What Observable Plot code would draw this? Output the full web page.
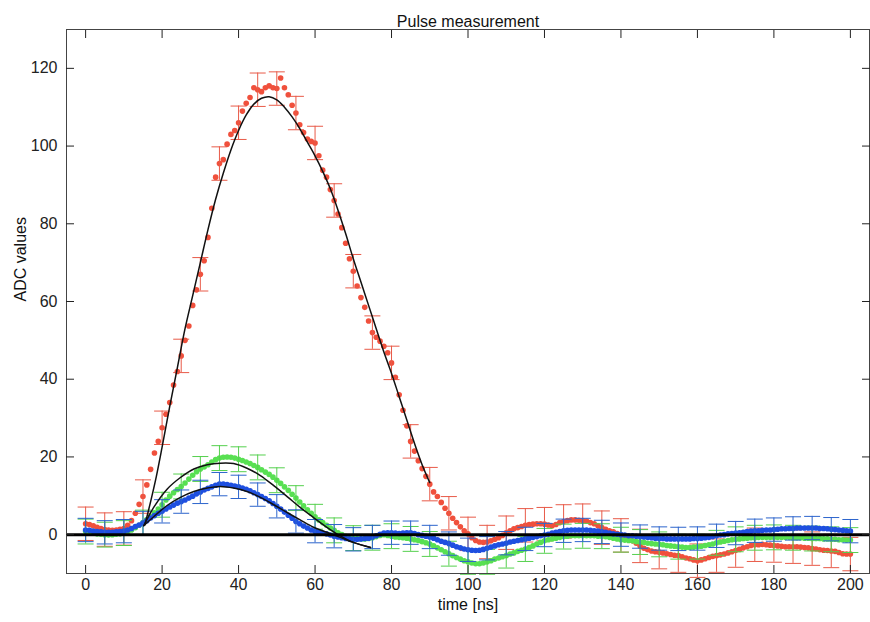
<!DOCTYPE html>
<html>
<head>
<meta charset="utf-8">
<script src="https://cdn.jsdelivr.net/npm/d3@7"></script>
<script src="https://cdn.jsdelivr.net/npm/@observablehq/plot@0.6"></script>
<style>
  body { margin: 0; background: #fff; }
</style>
</head>
<body>
<div id="chart"></div>
<script>
// ---- texts ----
const titleText = "Pulse measurement";
const xLabel = "time [ns]";
const yLabel = "ADC values";

// ---- ticks ----
const xTicks = [0, 20, 40, 60, 80, 100, 120, 140, 160, 180, 200];
const yTicks = [0, 20, 40, 60, 80, 100, 120];

// ---- sample times (1 ns sampling, 0..200 ns) ----
const time = d3.range(0, 201);

const red = [
  2.8, 2.6, 2.3, 1.9, 1.6, 1.3, 1.2, 1.1, 1.2, 1.4,
  1.6, 2.4, 3.6, 5.5, 7.8, 9.8, 12.8, 16.8, 21, 24,
  27.5, 31, 34, 38.5, 42, 46, 50, 53.7, 59, 63,
  67, 70.5, 76.5, 84, 92, 95.5, 96.5, 100.5, 103, 104,
  106, 109, 111, 112.5, 115, 114.5, 114, 115, 115.5, 115,
  114.8, 117.5, 115, 113.2, 110.5, 108.5, 105.5, 103.5, 101.8, 101.2,
  100.8, 97.5, 93.8, 92, 88.8, 86, 82.5, 79, 75, 71,
  67.8, 64, 61, 58.5, 55, 52, 50.8, 49.8, 48.5, 46.8,
  44.2, 40.5, 36, 32, 28, 24, 21.5, 19, 17, 15,
  13, 11, 9.8, 8.3, 6.8, 5.5, 4.2, 3.1, 2, 1,
  0.2, -0.8, -1.5, -1.9, -2, -1.9, -1.6, -1.2, -0.8, -0.2,
  0.5, 1, 1.5, 1.8, 2.1, 2.4, 2.6, 2.7, 2.8, 2.8,
  2.7, 2.5, 2.3, 2.6, 3.1, 3.4, 3.6, 3.8, 3.8, 3.7,
  3.6, 3.5, 3.1, 2.8, 2.3, 1.8, 1.4, 1, 0.7, 0.3,
  -0.2, -0.5, -1, -1.6, -2.2, -2.9, -3.5, -3.9, -4.2, -4.4,
  -4.5, -4.7, -4.9, -5.1, -5.3, -5.4, -5.7, -6, -6.2, -6.5,
  -6.7, -6.5, -6.2, -5.9, -5.6, -5.4, -5.2, -5, -4.7, -4.4,
  -4.1, -3.8, -3.4, -3.1, -2.8, -2.6, -2.6, -2.5, -2.6, -2.7,
  -2.8, -2.9, -3, -3.1, -3.1, -3.1, -3.1, -3.2, -3.3, -3.4,
  -3.6, -3.7, -3.9, -4, -4.1, -4.2, -4.3, -4.6, -4.9, -5,
  -5
];

const green = [
  0.8, 0.6, 0.4, 0.2, 0.1, 0, -0.1, 0, 0.1, 0.2,
  0.4, 0.7, 1.2, 1.8, 2.4, 3.1, 3.9, 4.7, 5.6, 6.6,
  7.7, 8.9, 9.9, 10.8, 11.6, 12.4, 13.3, 14.3, 15.3, 16.2,
  16.9, 17.4, 18, 18.7, 19.3, 19.7, 19.9, 20, 19.9, 19.7,
  19.4, 19.1, 18.7, 18.3, 17.8, 17.3, 16.7, 16.1, 15.5, 14.8,
  14, 13.2, 12.3, 11.4, 10.4, 9.4, 8.4, 7.4, 6.4, 5.5,
  4.6, 3.8, 3.1, 2.4, 1.7, 1.1, 0.5, 0, -0.4, -0.7,
  -0.9, -1, -1.1, -1.1, -1, -0.8, -0.5, -0.2, 0, -0.2,
  -0.4, -0.6, -0.7, -0.8, -0.9, -1.1, -1.3, -1.5, -1.8, -2.1,
  -2.4, -2.9, -3.4, -3.9, -4.4, -4.9, -5.4, -5.9, -6.3, -6.7,
  -7, -7.3, -7.5, -7.5, -7.3, -7, -6.7, -6.3, -6, -5.7,
  -5.4, -5, -4.7, -4.3, -4, -3.7, -3.3, -2.9, -2.4, -2,
  -1.6, -1.3, -1.1, -0.9, -0.7, -0.5, -0.4, -0.3, -0.3, -0.3,
  -0.3, -0.3, -0.3, -0.3, -0.4, -0.4, -0.5, -0.7, -0.9, -1.1,
  -1.3, -1.4, -1.5, -1.6, -1.8, -1.9, -2, -2.2, -2.3, -2.4,
  -2.5, -2.6, -2.8, -2.9, -3, -3.1, -3.2, -3.3, -3.3, -3.2,
  -3.1, -3, -2.8, -2.6, -2.4, -2.1, -1.9, -1.7, -1.5, -1.3,
  -1.2, -1.1, -1, -0.9, -0.8, -0.8, -0.7, -0.7, -0.7, -0.7,
  -0.7, -0.7, -0.7, -0.7, -0.7, -0.8, -0.8, -0.8, -0.9, -0.9,
  -1, -1, -1, -1.1, -1.1, -1.2, -1.2, -1.3, -1.3, -1.4,
  -1.4
];

const blue = [
  1.2, 1.1, 0.9, 0.8, 0.7, 0.6, 0.6, 0.6, 0.7, 0.8,
  0.9, 1.2, 1.6, 2.1, 2.5, 3, 3.6, 4.3, 4.9, 5.5,
  6, 6.6, 7.1, 7.6, 8.1, 8.5, 8.9, 9.4, 9.9, 10.5,
  11, 11.5, 11.9, 12.3, 12.7, 13, 13, 12.9, 12.7, 12.5,
  12.3, 12, 11.7, 11.3, 10.8, 10.3, 9.8, 9.3, 8.7, 8,
  7.3, 6.6, 5.8, 5, 4.2, 3.4, 2.8, 2.2, 1.7, 1.2,
  0.9, 0.6, 0.4, 0.2, -0.1, -0.4, -0.6, -0.8, -1, -1.1,
  -1.2, -1.2, -1.1, -1, -0.9, -0.6, -0.3, 0.1, 0.4, 0.5,
  0.5, 0.4, 0.3, 0.4, 0.5, 0.5, 0.3, 0, -0.2, -0.4,
  -0.6, -0.9, -1.3, -1.7, -2, -2.3, -2.7, -3.1, -3.4, -3.7,
  -3.9, -4, -4.1, -4, -3.8, -3.5, -3.2, -2.9, -2.6, -2.4,
  -2.2, -1.9, -1.7, -1.5, -1.3, -1.1, -0.9, -0.7, -0.5, -0.3,
  -0.1, 0.1, 0.4, 0.6, 0.8, 1, 1.1, 1.2, 1.2, 1.2,
  1.2, 1.2, 1.1, 1, 0.9, 0.7, 0.6, 0.4, 0.2, 0.1,
  0, -0.1, -0.3, -0.3, -0.4, -0.5, -0.6, -0.7, -0.8, -0.9,
  -1, -1, -1.1, -1.1, -1.1, -1.1, -1.1, -1.1, -1.1, -1,
  -1, -0.9, -0.8, -0.7, -0.5, -0.3, -0.1, 0, 0.2, 0.3,
  0.4, 0.5, 0.6, 0.8, 0.9, 1, 1, 1.1, 1.2, 1.2,
  1.3, 1.4, 1.5, 1.5, 1.6, 1.6, 1.7, 1.7, 1.7, 1.7,
  1.7, 1.7, 1.6, 1.6, 1.5, 1.4, 1.3, 1.2, 1.1, 1,
  0.9
];

// error bar half-widths (ADC counts), shown every 5 ns
const redErr = 4.3;
const greenErr = 3.2;
const blueErr = 3.0;
const errStep = 5;

// ---- fitted pulse shapes (black curves) ----
const redFitT = [15.5, 17, 18.5, 20, 22, 24, 26, 28, 30, 32, 34, 36, 38, 40, 42, 44, 46, 48, 50, 52,
  54, 56, 58, 60, 62, 64, 66, 68, 70, 72, 74, 76, 78, 80, 82, 84, 86, 88, 90];
const redFitV = [2.5, 8.5, 15, 22.5, 33, 43, 53, 61.5, 70, 78.5, 86.3, 93, 99, 104, 108, 110.8, 112.3, 112.7, 111.9, 110,
  107.5, 104.5, 101, 97.5, 93.5, 89, 83.5, 77.5, 71, 65, 59, 53, 47, 41.5, 35.5, 29.5, 23.5, 18, 13.4];

const smallFitT = [15.2, 17.8, 21.3, 24.8, 28.3, 31.8, 35.2, 38.7, 42.2, 45.7, 49.2, 52.7, 56.1, 59.6, 63.1, 66.6, 70, 74.5];
const greenFitV = [2.3, 7, 11.7, 14.7, 16.9, 18, 18.4, 18.3, 17.1, 15.2, 12.6, 9.8, 7, 4.4, 1.9, -0.3, -2, -3.3];
const blueFitV = [2.3, 4.6, 7.5, 9.6, 11.1, 12, 12.4, 12, 11.1, 9.6, 7.7, 5.7, 3.8, 1.9, 0.6, -0.7, -2, -3.3];

const baseline = [0];

// ---- colours ----
const redColor = "#f0503c", redBar = "#e85a48";
const greenColor = "#58e052", greenBar = "#55d04e";
const blueColor = "#1e4fe0", blueBar = "#2c64cc";

// ---- build tables ----
const rows = (vals) => time.map((t, i) => ({t, v: vals[i]}));
const errRows = (vals, e) => rows(vals)
  .filter(d => d.t % errStep === 0)
  .map(d => ({t: d.t, lo: d.v - e, hi: d.v + e}));
const fitRows = (ts, vs) => ts.map((t, i) => ({t, v: vs[i]}));

const capSymbol = {
  draw(ctx, size) {
    const w = Math.sqrt(size / Math.PI);
    ctx.moveTo(-w, 0);
    ctx.lineTo(w, 0);
  }
};

function seriesMarks(vals, e, color, barColor) {
  const er = errRows(vals, e);
  return [
    Plot.dot(rows(vals), {x: "t", y: "v", r: 2.8, fill: color, stroke: "none"}),
    Plot.ruleX(er, {x: "t", y1: "lo", y2: "hi", stroke: barColor, strokeWidth: 1}),
    Plot.dot(er, {x: "t", y: "hi", symbol: capSymbol, r: 8, stroke: barColor, fill: "none", strokeWidth: 1}),
    Plot.dot(er, {x: "t", y: "lo", symbol: capSymbol, r: 8, stroke: barColor, fill: "none", strokeWidth: 1})
  ];
}

const chart = Plot.plot({
  width: 870,
  height: 622,
  marginTop: 29,
  marginBottom: 49,
  marginLeft: 66,
  marginRight: 1,
  style: {fontFamily: "'Liberation Sans', Arial, Helvetica, sans-serif", fontSize: "16px", color: "#222", background: "#fff"},
  x: {domain: [-5, 205]},
  y: {domain: [-10, 130]},
  marks: [
    ...seriesMarks(red, redErr, redColor, redBar),
    ...seriesMarks(green, greenErr, greenColor, greenBar),
    ...seriesMarks(blue, blueErr, blueColor, blueBar),
    Plot.line(fitRows(redFitT, redFitV), {x: "t", y: "v", stroke: "#111", strokeWidth: 1.5, curve: "catmull-rom"}),
    Plot.line(fitRows(smallFitT, greenFitV), {x: "t", y: "v", stroke: "#111", strokeWidth: 1.5, curve: "catmull-rom"}),
    Plot.line(fitRows(smallFitT, blueFitV), {x: "t", y: "v", stroke: "#111", strokeWidth: 1.5, curve: "catmull-rom"}),
    Plot.ruleY(baseline, {stroke: "#000", strokeWidth: 3}),
    Plot.frame({stroke: "#444"}),
    // tick labels
    Plot.axisX({ticks: xTicks, anchor: "bottom", tickSize: 0, tickPadding: 5, label: null, fontSize: 16}),
    Plot.axisY({ticks: yTicks, anchor: "left", tickSize: 0, tickPadding: 9, label: null, fontSize: 16}),
    // inward ticks on all four sides
    Plot.axisX({ticks: xTicks, anchor: "bottom", tickSize: -8, fill: "none", label: null, stroke: "#222"}),
    Plot.axisX({ticks: xTicks, anchor: "top", tickSize: -8, fill: "none", label: null, stroke: "#222"}),
    Plot.axisY({ticks: yTicks, anchor: "left", tickSize: -8, fill: "none", label: null, stroke: "#222"}),
    Plot.axisY({ticks: yTicks, anchor: "right", tickSize: -8, fill: "none", label: null, stroke: "#222"}),
    // titles
    Plot.text([titleText], {frameAnchor: "top", dy: -14, fontSize: 16, fill: "#111"}),
    Plot.text([xLabel], {frameAnchor: "bottom", dy: 36, fontSize: 16, fill: "#111"}),
    Plot.text([yLabel], {frameAnchor: "left", dx: -46, rotate: -90, fontSize: 16, fill: "#111"})
  ]
});

document.getElementById("chart").append(chart);
</script>
</body>
</html>
